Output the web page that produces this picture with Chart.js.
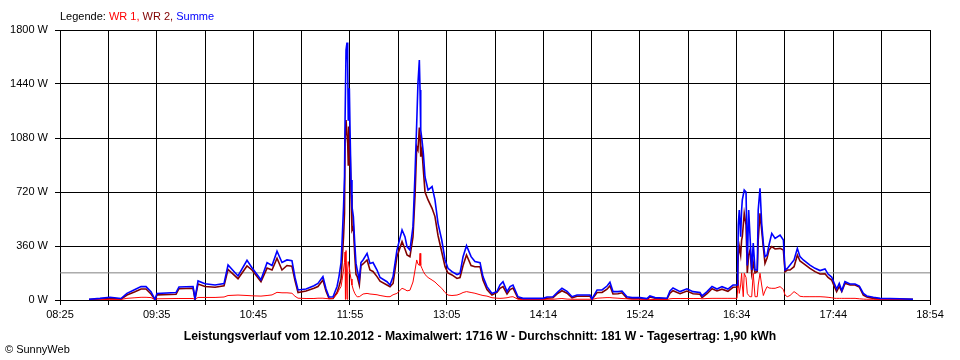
<!DOCTYPE html>
<html>
<head>
<meta charset="utf-8">
<script src="https://cdn.jsdelivr.net/npm/chart.js@4.4.0/dist/chart.umd.min.js"></script>
<style>
  body { margin: 0; background: #fff; font-family: "Liberation Sans", Arial, sans-serif; }
  #wrap { position: relative; width: 960px; height: 360px; }
  #legend { position: absolute; left: 60px; top: 10px; font-size: 11px; color: #000; }
  #footer { position: absolute; left: 0; width: 960px; top: 329px; text-align: center; font-weight: bold; font-size: 12.2px; }
  #copy { position: absolute; left: 5px; top: 343px; font-size: 11px; }
</style>
<script>
// time axis in minutes after midnight (08:25 = 505, 18:54 = 1134)
var xTickLabels = ['08:25', '09:35', '10:45', '11:55', '13:05', '14:14', '15:24', '16:34', '17:44', '18:54'];
var yTicks = [0, 360, 720, 1080, 1440, 1800];
var average = 181;

var minutes = [526.0, 533.9, 541.1, 549.1, 553.4, 559.2, 563.6, 567.2, 570.8, 573.7,
  575.1, 588.9, 591.0, 601.2, 602.6, 604.8, 609.8, 617.1, 623.6, 626.5,
  633.7, 640.2, 643.8, 650.3, 654.7, 658.3, 661.9, 665.5, 669.1, 672.7,
  674.9, 677.1, 682.9, 688.6, 691.5, 695.1, 697.3, 699.5, 702.4, 705.3,
  706.7, 708.2, 708.9, 710.0, 710.7, 711.1, 711.4, 711.8, 712.5, 713.0,
  713.4, 713.7, 714.2, 714.7, 715.4, 716.1, 717.1, 718.1, 719.0, 719.9,
  721.4, 722.6, 724.1, 727.0, 729.1, 731.3, 734.2, 736.4, 741.4, 743.6,
  745.8, 748.6, 752.3, 754.4, 755.9, 758.0, 760.2, 761.7, 762.9, 763.8,
  764.8, 765.3, 765.8, 766.7, 767.7, 768.9, 771.1, 774.0, 776.1, 778.3,
  781.0, 783.4, 785.5, 788.4, 792.0, 794.2, 796.4, 798.9, 802.2, 805.0,
  808.7, 810.8, 813.7, 817.3, 820.9, 823.1, 825.3, 828.2, 830.4, 832.5,
  836.1, 839.7, 854.2, 857.1, 861.4, 865.0, 867.9, 871.6, 875.2, 878.8,
  888.2, 889.6, 893.3, 896.9, 900.5, 902.6, 904.8, 908.4, 911.3, 914.9,
  918.6, 924.3, 929.4, 931.5, 935.2, 943.9, 946.0, 948.2, 953.3, 958.3,
  962.7, 967.7, 969.2, 972.8, 976.4, 980.0, 983.6, 987.9, 991.6, 994.5,
  995.0, 995.4, 996.1, 997.1, 997.8, 998.3, 999.0, 999.7, 1001.0, 1001.9,
  1002.9, 1003.9, 1005.1, 1006.2, 1007.5, 1009.1, 1009.8, 1011.1, 1012.3, 1013.5,
  1014.7, 1016.2, 1017.6, 1019.6, 1022.0, 1025.6, 1028.0, 1029.2, 1030.8, 1032.8,
  1035.7, 1038.1, 1040.0, 1042.4, 1047.2, 1050.9, 1054.5, 1058.1, 1060.3, 1062.9,
  1065.3, 1066.5, 1068.4, 1070.2, 1072.5, 1076.2, 1079.8, 1082.9, 1085.8, 1088.3,
  1093.0, 1097.9, 1112.3, 1121.7];

var wr1 = [0, 2, 4, 4, 11, 15, 18, 18, 16, 2,
  8, 10, 10, 10, 5, 17, 17, 17, 20, 30,
  33, 30, 28, 26, 30, 34, 51, 48, 48, 45,
  25, 12, 10, 10, 12, 12, 10, 8, 10, 40,
  67, 90, 130, 200, 250, 320, 5, 330, 5, 200,
  256, 256, 220, 178, 140, 100, 67, 45, 30, 22,
  22, 30, 40, 44, 40, 38, 35, 30, 22, 22,
  35, 44, 78, 70, 61, 65, 120, 200, 267, 240,
  230, 311, 230, 211, 190, 170, 150, 133, 120, 100,
  78, 50, 33, 30, 33, 40, 50, 56, 50, 45,
  35, 30, 26, 15, 12, 11, 12, 15, 20, 22,
  5, 3, 3, 5, 5, 8, 10, 6, 5, 5,
  5, 3, 12, 14, 16, 16, 14, 12, 10, 8,
  5, 5, 3, 4, 3, 3, 8, 10, 10, 10,
  10, 10, 8, 10, 11, 11, 11, 11, 11, 11,
  11, 133, 44, 100, 178, 100, 22, 178, 150, 44,
  30, 22, 22, 178, 22, 22, 100, 178, 100, 30,
  60, 89, 80, 78, 78, 89, 70, 33, 22, 30,
  56, 40, 25, 22, 22, 22, 22, 20, 18, 15,
  11, 11, 11, 11, 11, 11, 11, 8, 6, 5,
  5, 3, 3, 2];

var wr2 = [3, 8, 12, 6, 33, 55, 73, 73, 40, 2,
  34, 38, 75, 78, 5, 107, 90, 85, 95, 204,
  142, 227, 200, 122, 213, 200, 278, 200, 230, 225,
  130, 49, 60, 78, 90, 133, 60, 10, 10, 50,
  90, 140, 250, 422, 580, 1067, 1067, 1200, 1100, 1044,
  900, 1156, 1000, 1022, 700, 467, 489, 300, 170, 156,
  100, 230, 240, 267, 200, 190, 156, 125, 100, 89,
  110, 289, 389, 340, 300, 289, 420, 700, 1022, 1000,
  1150, 1100, 956, 1000, 867, 720, 667, 611, 556, 430,
  320, 222, 180, 167, 144, 150, 230, 300, 230, 222,
  222, 133, 70, 33, 50, 78, 90, 40, 70, 80,
  11, 8, 8, 12, 15, 45, 62, 45, 15, 25,
  25, 4, 50, 50, 72, 95, 40, 42, 48, 12,
  10, 10, 6, 20, 12, 8, 45, 62, 42, 60,
  42, 38, 16, 42, 75, 60, 72, 58, 85, 87,
  178, 300, 356, 300, 400, 422, 500, 578, 500, 180,
  300, 333, 180, 250, 180, 190, 400, 578, 467, 350,
  244, 280, 333, 356, 340, 344, 333, 189, 200, 200,
  222, 300, 260, 244, 211, 189, 173, 175, 150, 133,
  80, 56, 90, 56, 111, 100, 100, 87, 33, 20,
  11, 8, 6, 4];

var summe = [5, 11, 18, 10, 44, 70, 89, 89, 55, 3,
  44, 50, 87, 90, 10, 127, 108, 100, 110, 233,
  160, 265, 215, 135, 249, 230, 325, 250, 267, 262,
  150, 67, 73, 95, 110, 156, 75, 20, 22, 90,
  156, 250, 380, 622, 822, 1200, 1200, 1667, 1716, 1578,
  1200, 1356, 1411, 1133, 800, 622, 556, 378, 244, 200,
  133, 250, 267, 311, 244, 250, 200, 150, 122, 100,
  156, 333, 467, 422, 356, 333, 489, 850, 1178, 1444,
  1600, 1400, 1133, 1067, 978, 820, 733, 756, 667, 511,
  400, 267, 211, 189, 170, 178, 289, 362, 289, 256,
  249, 156, 89, 44, 56, 100, 122, 56, 90, 100,
  22, 11, 11, 20, 22, 55, 78, 58, 22, 33,
  33, 7, 67, 67, 93, 118, 56, 56, 60, 22,
  16, 16, 9, 27, 16, 12, 60, 80, 56, 75,
  56, 50, 27, 56, 90, 73, 89, 73, 100, 100,
  222, 500, 600, 422, 600, 667, 700, 733, 720, 230,
  600, 422, 200, 380, 200, 200, 600, 744, 511, 378,
  289, 300, 367, 444, 411, 433, 400, 200, 210, 233,
  267, 344, 289, 267, 233, 211, 196, 207, 173, 153,
  100, 73, 111, 62, 122, 107, 107, 93, 44, 27,
  18, 11, 8, 5];

function toPoints(values) {
  return values.map(function (v, i) { return { x: minutes[i], y: v }; });
}

function afterLoad() {
  var ctx = document.getElementById('myChart').getContext('2d');
  var xMin = 505, xMax = 1134;
  var gridStep = (xMax - xMin) / 18;
  var font = { family: '"Liberation Sans", Arial, sans-serif', size: 11 };

  new Chart(ctx, {
    type: 'line',
    data: {
      datasets: [
        { label: 'Summe', data: toPoints(summe), borderColor: '#0000ff', borderWidth: 1.6, order: 1 },
        { label: 'WR 1', data: toPoints(wr1), borderColor: '#ff0000', borderWidth: 1, order: 2 },
        { label: 'WR 2', data: toPoints(wr2), borderColor: '#800000', borderWidth: 1.6, order: 3 },
        { label: 'Durchschnitt', data: [{ x: xMin, y: average }, { x: xMax, y: average }],
          borderColor: '#808080', borderWidth: 1, order: 4 }
      ]
    },
    options: {
      responsive: false,
      animation: false,
      devicePixelRatio: 1,
      elements: { point: { radius: 0 }, line: { tension: 0 } },
      layout: { padding: { left: 0, right: 30, top: 30, bottom: 40 } },
      plugins: { legend: { display: false }, tooltip: { enabled: false } },
      scales: {
        x: {
          type: 'linear', min: xMin, max: xMax,
          afterBuildTicks: function (s) {
            var t = [];
            for (var i = 0; i <= 18; i++) t.push({ value: xMin + i * gridStep });
            s.ticks = t;
          },
          afterFit: function (s) { s.height = 20; },
          grid: { color: '#000', lineWidth: 1, tickLength: 5 },
          border: { color: '#000', width: 1 },
          ticks: {
            color: '#000', font: font, padding: 3, maxRotation: 0, autoSkip: false,
            callback: function (v, i) { return i % 2 === 0 ? xTickLabels[i / 2] : ''; }
          }
        },
        y: {
          min: 0, max: 1800,
          afterBuildTicks: function (s) { s.ticks = yTicks.map(function (v) { return { value: v }; }); },
          afterFit: function (s) { s.width = 60; },
          grid: { color: '#000', lineWidth: 1, tickLength: 5 },
          border: { color: '#000', width: 1 },
          ticks: { color: '#000', font: font, padding: 7, callback: function (v) { return v + ' W'; } }
        }
      }
    }
  });
}
</script>
</head>
<body onload="afterLoad()">
<div id="wrap">
  <canvas id="myChart" width="960" height="360"></canvas>
  <div id="legend">Legende: <span style="color:#ff0000">WR 1,</span> <span style="color:#800000">WR 2,</span> <span style="color:#0000ff">Summe</span></div>
  <div id="footer">Leistungsverlauf vom 12.10.2012 - Maximalwert: 1716 W - Durchschnitt: 181 W - Tagesertrag: 1,90 kWh</div>
  <div id="copy">© SunnyWeb</div>
</div>
</body>
</html>
